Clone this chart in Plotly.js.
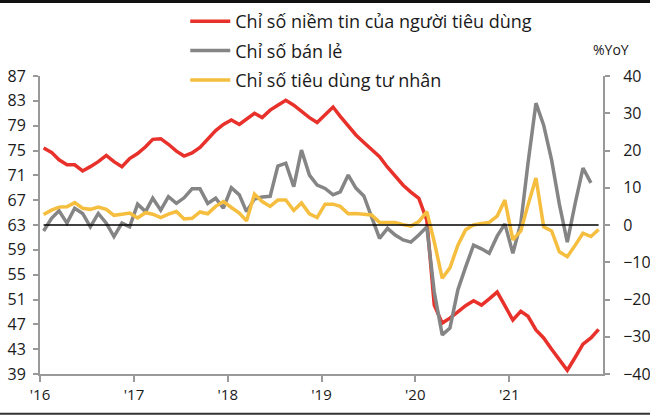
<!DOCTYPE html>
<html>
<head>
<meta charset="utf-8">
<script src="https://cdn.plot.ly/plotly-3.0.1.min.js"></script>
<style>html,body{margin:0;padding:0;background:#fff;}#chart{width:650px;height:416px;}</style>
</head>
<body>
<div id="chart"></div>
<script>
// Monthly observations Jan 2016 – Dec 2021 (plotted mid-month)
var startYear = 2016, nMonths = 72;
var months = [];
for (var i = 0; i < nMonths; i++) {
  var y = startYear + Math.floor(i / 12), m = (i % 12) + 1;
  months.push(y + '-' + (m < 10 ? '0' + m : m) + '-15');
}

// Chỉ số niềm tin của người tiêu dùng (left axis)
var confidence = [
  75.4, 74.7, 73.5, 72.7, 72.7, 71.7, 72.4, 73.2, 74.2, 73.2, 72.4, 73.7,
  74.5, 75.6, 76.8, 76.9, 76.0, 74.9, 74.1, 74.6, 75.5, 76.8, 78.2, 79.2,
  79.9, 79.2, 80.0, 81.0, 80.3, 81.5, 82.3, 83.1, 82.3, 81.3, 80.3, 79.5,
  80.7, 82.0, 80.5, 79.0, 77.5, 76.3, 75.1, 74.0, 72.3, 70.8, 69.4, 68.3,
  67.3, 63.8, 50.1, 47.2, 48.0, 49.0, 50.0, 50.8, 50.1, 51.1, 52.2, 50.0,
  47.7, 49.1, 48.3, 46.1, 44.8, 43.0, 41.3, 39.6, 41.7, 43.8, 44.8, 46.2
];

// Chỉ số bán lẻ (%YoY, right axis)
var retail = [
  -1.6, 1.8, 3.8, 0.5, 4.5, 3.1, -0.5, 3.1, 0.5, -3.1, 0.5, -0.5,
  5.6, 3.6, 7.2, 4.0, 7.6, 5.8, 7.3, 9.7, 9.7, 5.8, 7.2, 4.5,
  10.0, 8.1, 3.6, 7.0, 7.5, 7.7, 15.8, 16.6, 10.3, 20.1, 13.4, 10.7,
  9.8, 8.1, 8.9, 13.4, 9.9, 7.8, 2.2, -3.6, -0.9, -2.7, -4.0, -4.6,
  -2.7, -0.5, -18.0, -29.5, -27.7, -17.4, -11.3, -5.4, -6.4, -7.6, -3.0, 0.3,
  -7.6, 0.5, 16.6, 32.7, 26.8, 17.4, 5.6, -4.6, 5.9, 15.3, 11.3, null
];

// Chỉ số tiêu dùng tư nhân (%YoY, right axis)
var privateCons = [
  2.8, 4.0, 4.8, 4.9, 6.0, 4.5, 4.2, 4.8, 4.2, 2.6, 2.9, 3.2,
  1.9, 3.3, 2.9, 2.0, 2.9, 3.6, 1.6, 1.8, 3.5, 3.0, 5.0, 6.3,
  4.7, 3.2, 1.1, 8.3, 6.3, 5.0, 6.7, 6.7, 3.9, 5.9, 3.0, 2.0,
  5.6, 5.6, 5.0, 3.0, 3.1, 3.0, 2.7, 0.7, 0.8, 0.7, 0.1, -0.3,
  0.9, 3.6, -4.5, -14.3, -11.5, -5.4, -1.3, 0.0, 0.4, 0.7, 2.4, 6.7,
  -4.0, -1.6, 5.4, 12.6, -0.5, -1.6, -7.2, -8.5, -5.4, -2.2, -3.1, -1.2
];

var yearTicks = ['2016-01-01', '2017-01-01', '2018-01-01', '2019-01-01', '2020-01-01', '2021-01-01'];
var yearLabels = ["'16", "'17", "'18", "'19", "'20", "'21"];
var seriesNames = ['Chỉ số niềm tin của người tiêu dùng', 'Chỉ số bán lẻ', 'Chỉ số tiêu dùng tư nhân'];
var seriesColors = ['#E8312A', '#858585', '#F6BE3F'];

var FONT = 'Open Sans, Noto Sans, sans-serif';
var AXIS_GRAY = '#999999';

var traces = [
  {x: months, y: confidence, name: seriesNames[0], legendgroup: 'a', yaxis: 'y',
   type: 'scatter', mode: 'lines', line: {color: seriesColors[0], width: 3.5}},
  {x: months, y: retail, name: seriesNames[1], legendgroup: 'b', yaxis: 'y2',
   type: 'scatter', mode: 'lines', line: {color: seriesColors[1], width: 3.5}},
  {x: months, y: privateCons, name: seriesNames[2], legendgroup: 'c', yaxis: 'y2',
   type: 'scatter', mode: 'lines', line: {color: seriesColors[2], width: 3.5}}
];

var layout = {
  width: 650, height: 416,
  margin: {l: 40, r: 47, t: 76, b: 42, pad: 0, autoexpand: false},
  paper_bgcolor: '#ffffff', plot_bgcolor: '#ffffff',
  font: {family: FONT, color: '#1a1a1a', size: 15},
  showlegend: true,
  legend: {
    x: 0.258, xanchor: 'left', y: 1.245, yanchor: 'top',
    bgcolor: 'rgba(0,0,0,0)', borderwidth: 0,
    font: {family: FONT, size: 18, color: '#1a1a1a'},
    traceorder: 'grouped', tracegroupgap: 3, itemwidth: 40
  },
  xaxis: {
    type: 'date', range: ['2016-01-01', '2022-01-01'],
    tickvals: yearTicks, ticktext: yearLabels,
    showgrid: false, zeroline: false,
    showline: true, linecolor: AXIS_GRAY, linewidth: 2,
    ticks: 'outside', ticklen: 6, tickcolor: AXIS_GRAY, tickwidth: 2,
    tickfont: {family: FONT, size: 15, color: '#1a1a1a'}
  },
  yaxis: {
    range: [39, 87], tick0: 39, dtick: 4,
    showgrid: false, zeroline: false,
    showline: true, linecolor: AXIS_GRAY, linewidth: 2,
    ticks: 'outside', ticklen: 5, tickcolor: AXIS_GRAY, tickwidth: 2,
    tickfont: {family: FONT, size: 16, color: '#1a1a1a'},
    ticklabelstandoff: 4
  },
  yaxis2: {
    overlaying: 'y', side: 'right',
    range: [-40, 40], tick0: -40, dtick: 10,
    showgrid: false, zeroline: false,
    showline: true, linecolor: AXIS_GRAY, linewidth: 2,
    ticks: 'outside', ticklen: 5, tickcolor: AXIS_GRAY, tickwidth: 2,
    tickfont: {family: FONT, size: 16, color: '#1a1a1a'},
    ticklabelstandoff: 10
  },
  shapes: [
    {type: 'line', xref: 'x', yref: 'y2', x0: months[0], x1: months[nMonths - 1], y0: 0, y1: 0,
     line: {color: '#000000', width: 1.5}},
    // thin frame lines at top and bottom edges of the picture
    {type: 'line', xref: 'paper', yref: 'paper', x0: -0.08, x1: 1.1, y0: 1.2502, y1: 1.2502,
     line: {color: '#111111', width: 3}},
    {type: 'line', xref: 'paper', yref: 'paper', x0: -0.08, x1: 1.1, y0: -0.1337, y1: -0.1337,
     line: {color: '#333333', width: 2}}
  ],
  annotations: [
    {text: '%YoY', xref: 'paper', yref: 'paper', x: 1.015, y: 1.09,
     xanchor: 'center', yanchor: 'middle', showarrow: false,
     font: {family: FONT, size: 14, color: '#1a1a1a'}}
  ]
};

Plotly.newPlot('chart', traces, layout, {displayModeBar: false, staticPlot: true});
</script>
</body>
</html>
